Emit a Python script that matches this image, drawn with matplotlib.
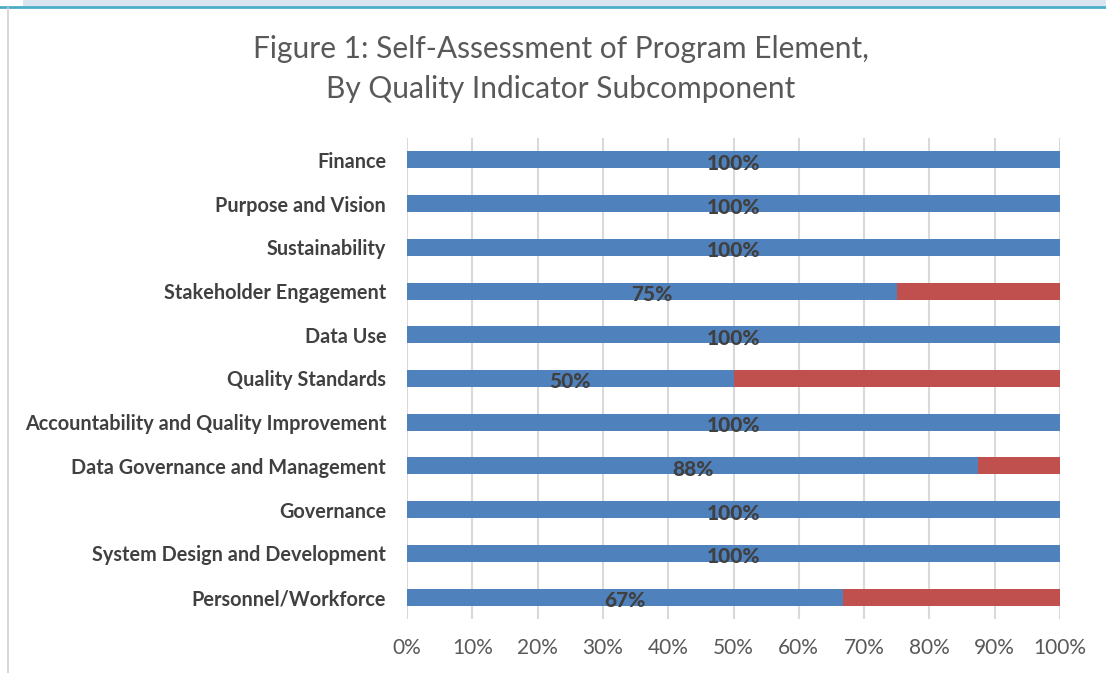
import numpy as np
import matplotlib
matplotlib.use("Agg")
import matplotlib.pyplot as plt
from matplotlib.patches import Rectangle
from matplotlib.lines import Line2D

plt.rcParams["font.family"] = ["Lato", "DejaVu Sans"]

# --- data (top to bottom as drawn) ---
categories = [
    "Finance",
    "Purpose and Vision",
    "Sustainability",
    "Stakeholder Engagement",
    "Data Use",
    "Quality Standards",
    "Accountability and Quality Improvement",
    "Data Governance and Management",
    "Governance",
    "System Design and Development",
    "Personnel/Workforce",
]
met = [1.00, 1.00, 1.00, 0.75, 1.00, 0.50, 1.00, 0.875, 1.00, 1.00, 0.667]
not_met = [1 - v for v in met]
x_ticks = np.arange(0, 1.01, 0.1)

blue = "#4f81bd"
red = "#c0504d"
text_dark = "#404040"

fig = plt.figure(figsize=(11.06, 6.73), dpi=100)

# page decorations: header strip and left border
fig.add_artist(Rectangle((0, 1 - 6 / 673), 1, 6 / 673, transform=fig.transFigure,
                         facecolor="#dbe5f1", edgecolor="none"))
fig.add_artist(Rectangle((0, 1 - 6 / 673), 23 / 1106, 6 / 673, transform=fig.transFigure,
                         facecolor="white", edgecolor="none"))
fig.add_artist(Line2D([0, 1], [1 - 7 / 673] * 2, transform=fig.transFigure,
                      color="#4bacc6", lw=2))
fig.add_artist(Line2D([8 / 1106] * 2, [0, 1 - 8 / 673], transform=fig.transFigure,
                      color="#d0d0d0", lw=1.2))

ax = fig.add_axes([407 / 1106, 1 - 619 / 673, (1060 - 407) / 1106, (619 - 138) / 673])

y = np.arange(len(categories))
ax.barh(y, met, height=0.39, color=blue, zorder=3)
ax.barh(y, not_met, left=met, height=0.39, color=red, zorder=3)

for yi, v in zip(y, met):
    ax.text(v / 2, yi + 0.08, f"{v:.0%}", ha="center", va="center",
            fontsize=15, fontweight=900, color=text_dark, zorder=4)

ax.set_xlim(0, 1)
ax.set_ylim(len(categories) - 0.5, -0.5)
ax.set_xticks(x_ticks)
ax.set_xticklabels([f"{t:.0%}" for t in x_ticks], fontsize=15, color="#595959")
ax.set_yticks(y)
ax.set_yticklabels(categories, fontsize=14.3, fontweight="bold", color=text_dark)
ax.tick_params(axis="both", length=0)
ax.tick_params(axis="x", pad=14)
ax.tick_params(axis="y", pad=15)
ax.grid(axis="x", color="#d9d9d9", lw=1.5, zorder=0)
for s in ax.spines.values():
    s.set_visible(False)

fig.text(0.507, 1 - 69 / 673, "Figure 1: Self-Assessment of Program Element,\nBy Quality Indicator Subcomponent",
         ha="center", va="center", fontsize=21.5, color="#595959", linespacing=1.55)

fig.savefig("out.png", dpi=100)
